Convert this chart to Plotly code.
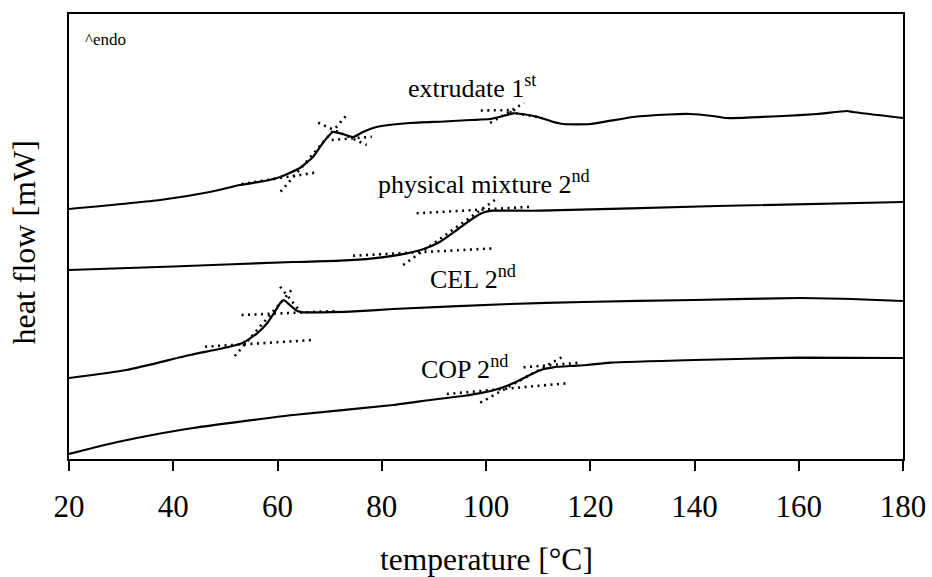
import plotly.graph_objects as go

# ---------------- data (heat flow in arbitrary units, curves offset) ----------------
t_extrudate = [20, 37.5, 47, 52.8, 57.5, 60.5, 64.3, 66.8, 68.7, 70.6, 72.5, 74.5, 76.4, 79,
               85.4, 92, 97, 100.8, 103.3, 105.2, 106.9, 109.8, 112.8, 114.8, 120, 128.2,
               135, 139.1, 143.5, 146.2, 157, 163.5, 169.3, 170.4, 180]
hf_extrudate = [250, 259, 267, 274, 278, 282, 291, 302, 316, 327, 325, 322, 327, 332,
                336, 337.5, 339, 340, 343, 345.7, 345, 342.3, 337.3, 335, 335, 342,
                344.5, 345, 343, 341, 343, 345, 348, 347, 341]

t_mixture = [20, 40, 63, 72.0, 78.3, 84.8, 87.9, 91.2, 94.4, 97.5, 99.4, 101.3, 105.2,
             110.4, 144.3, 180]
hf_mixture = [189, 192.5, 197, 198.3, 200.7, 205.7, 209.7, 217.3, 229, 240.7, 246.3,
              248.3, 248.3, 248.3, 253, 257]

t_cel = [20, 31, 43.2, 49.5, 53.4, 56.1, 58.0, 59.5, 60.5, 61.2, 62.0, 63.7, 64.9, 68.7,
         73.9, 82.2, 104.6, 118.6, 140, 160.2, 170, 180]
hf_cel = [81, 89, 104, 110.7, 116.3, 125.7, 135.7, 147.3, 155.7, 159, 155.7, 148.3, 146.7,
          146.7, 147.3, 150, 155, 157, 159, 161, 160, 158]

t_cop = [20, 26, 33, 43.8, 63, 82.2, 89.3, 95.6, 99.4, 102.1, 105.2, 108.4, 110.9, 112.9,
         116.1, 119.4, 123.8, 140, 160.2, 180]
hf_cop = [5, 13, 21, 31, 44, 54, 59, 63, 66.3, 69.7, 75.7, 84, 89.7, 91.7, 93, 94, 96.3,
          99, 101.3, 101]

# tangent construction lines (dotted): [T_start, T_end], [hf_start, hf_end]
tangent_t = [
    [53.1, 67.2], [60.6, 73.1], [67.8, 77.1], [70.4, 78.1],          # extrudate Tg
    [99.0, 106.0], [100.8, 107.3], [104.5, 110.8],                   # extrudate 2nd step
    [74.5, 101.7], [84.1, 101.7], [86.7, 108.8],                     # physical mixture
    [46.1, 66.9], [51.8, 62.7], [60.5, 64.0], [53.1, 71.4],          # CEL
    [92.5, 115.5], [98.9, 114.5], [107.2, 118.0],                    # COP
]
tangent_hf = [
    [275, 286.3], [267.3, 343], [336.3, 314], [319, 322.3],
    [348.5, 349], [336, 356], [347, 341],
    [203.3, 210.7], [194, 259], [245.7, 252.3],
    [112.3, 119], [103, 169], [172.3, 149.7], [144, 148],
    [65, 75.7], [56.3, 101.7], [91.7, 96.3],
]

labels = ["extrudate 1<sup>st</sup>", "physical mixture 2<sup>nd</sup>",
          "CEL 2<sup>nd</sup>", "COP 2<sup>nd</sup>"]
label_t = [84.7, 78.9, 88.9, 87.1]
label_hf = [373, 277, 182, 92]

x_ticks = [20, 40, 60, 80, 100, 120, 140, 160, 180]

FONT = "Liberation Serif, Times New Roman, serif"

fig = go.Figure()

for tt, hh in zip(tangent_t, tangent_hf):
    fig.add_trace(go.Scatter(x=tt, y=hh, mode="lines",
                             line=dict(color="black", width=2.6, dash="2px,4.5px"),
                             showlegend=False, hoverinfo="skip"))

for tt, hh in [(t_extrudate, hf_extrudate), (t_mixture, hf_mixture),
               (t_cel, hf_cel), (t_cop, hf_cop)]:
    fig.add_trace(go.Scatter(x=tt, y=hh, mode="lines",
                             line=dict(color="black", width=2.2, shape="spline", smoothing=0.5),
                             showlegend=False))

for txt, tx, ty in zip(labels, label_t, label_hf):
    fig.add_annotation(x=tx, y=ty, xref="x", yref="y", text=txt, showarrow=False,
                       xanchor="left", yanchor="middle",
                       font=dict(family=FONT, size=26, color="black"))

fig.add_annotation(x=22.7, y=420, xref="x", yref="y", text="^endo", showarrow=False,
                   xanchor="left", yanchor="middle",
                   font=dict(family=FONT, size=17, color="black"))

fig.add_annotation(x=0, y=0.5, xref="paper", yref="paper", text="heat flow [mW]",
                   showarrow=False, textangle=-90, xanchor="center", yanchor="middle",
                   xshift=-46, yshift=-6, font=dict(family=FONT, size=32, color="black"))

fig.add_annotation(x=0.5, y=0, xref="paper", yref="paper", text="temperature [°C]",
                   showarrow=False, xanchor="center", yanchor="middle",
                   yshift=-100, font=dict(family=FONT, size=31.5, color="black"))

fig.update_layout(
    width=932, height=577,
    margin=dict(l=69, r=29, t=14, b=118, autoexpand=False),
    paper_bgcolor="white", plot_bgcolor="white",
    font=dict(family=FONT, size=30, color="black"),
    showlegend=False,
)
fig.update_xaxes(range=[20, 180], tickvals=x_ticks, ticks="outside", ticklen=10,
                 tickwidth=2, tickcolor="black", showline=True, linewidth=2,
                 linecolor="black", mirror=True, showgrid=False, zeroline=False,
                 automargin=False, ticklabelstandoff=9,
                 tickfont=dict(family=FONT, size=31, color="black"))
fig.update_yaxes(range=[0, 445], showticklabels=False, ticks="", showline=True,
                 linewidth=2, linecolor="black", mirror=True, showgrid=False,
                 zeroline=False, automargin=False)

fig.write_html("out.html", config={"displayModeBar": False},
               post_script="document.body.style.margin='0';document.body.style.overflow='hidden';")
